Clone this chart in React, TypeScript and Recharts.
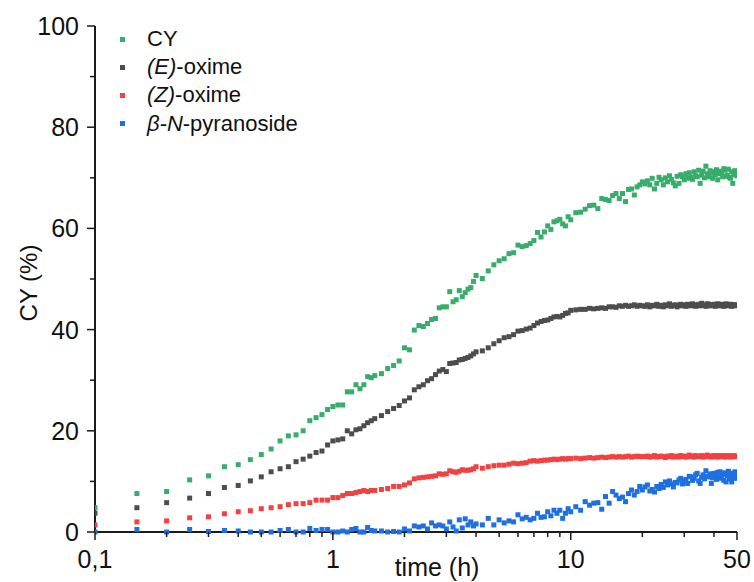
import React from 'react';
import { ScatterChart, Scatter, XAxis, YAxis } from 'recharts';

// time points (h), sampled from the measurement
const timesEarly = [0.1, 0.15, 0.2, 0.25, 0.3, 0.35, 0.4, 0.45, 0.5, 0.55, 0.6, 0.65, 0.7, 0.75, 0.8, 0.85, 0.9, 0.95, 1, 1.05, 1.1, 1.15, 1.2, 1.25, 1.3, 1.35, 1.4, 1.45, 1.5];
const timesMid = [1.6, 1.7, 1.8, 1.9, 2, 2.1, 2.2, 2.3, 2.4, 2.5, 2.6, 2.7, 2.8, 2.9, 3, 3.1, 3.2, 3.3, 3.4, 3.5, 3.6, 3.7, 3.8, 3.9, 4];
const timesLate = [4.25, 4.5, 4.75, 5, 5.25, 5.5, 5.75, 6, 6.25, 6.5, 6.75, 7, 7.25, 7.5, 7.75, 8, 8.25, 8.5, 8.75, 9, 9.25, 9.5, 9.75, 10];
const timesTail = [10.5, 11, 11.5, 12, 12.5, 13, 13.5, 14, 14.5, 15, 15.5, 16, 16.5, 17, 17.5, 18, 18.5, 19, 19.5, 20,
  20.5, 21, 21.5, 22, 22.5, 23, 23.5, 24, 24.5, 25, 25.5, 26, 26.5, 27, 27.5, 28, 28.5, 29, 29.5, 30,
  30.5, 31, 31.5, 32, 32.5, 33, 33.5, 34, 34.5, 35, 35.5, 36, 36.5, 37, 37.5, 38, 38.5, 39, 39.5, 40,
  40.5, 41, 41.5, 42, 42.5, 43, 43.5, 44, 44.5, 45, 45.5, 46, 46.5, 47, 47.5, 48, 48.5, 49, 49.5, 50];
const times = [...timesEarly, ...timesMid, ...timesLate, ...timesTail];

// CY (%)
const cyValues = [
  4.8, 7.6, 8.0, 10.3, 11.1, 12.9, 13.3, 14.3, 15.3, 16.4, 18.0, 19.0, 19.2, 20.0, 22.0, 22.6, 23.2, 24.2, 24.8, 25.1, 25.1, 27.7, 27.7, 29.1, 28.3, 29.1, 30.7, 30.5, 30.9,
  31.3, 32.3, 32.9, 33.8, 36.4, 36.0, 39.9, 40.8, 40.6, 41.2, 42.0, 42.2, 44.3, 44.5, 44.5, 47.5, 45.5, 45.9, 47.7, 46.5, 47.3, 48.0, 48.3, 49.5, 50.7,
  50.1, 51.6, 52.8, 53.6, 54.0, 55.0, 55.2, 56.7, 56.4, 56.6, 57.0, 57.6, 59.2, 58.3, 59.3, 60.5, 59.8, 61.3, 61.5, 61.8, 60.9, 60.5, 62.3, 61.7,
  63.1, 63.2, 63.8, 64.5, 64.6, 63.9, 65.9, 65.7, 65.5, 66.5, 66.9, 65.9, 66.9, 65.3, 67.7, 67.8, 66.6, 68.2, 68.6, 69.2,
  68.8, 69.4, 68.6, 69.9, 67.8, 68.9, 70.1, 69.6, 68.6, 70.0, 69.2, 70.4, 69.7, 69.0, 68.4, 70.3, 68.9, 70.6, 70.2, 69.6,
  70.8, 69.9, 71.0, 70.1, 69.7, 71.2, 70.4, 70.2, 71.5, 68.9, 70.5, 71.3, 70.0, 72.3, 70.8, 70.2, 71.4, 70.9, 69.9, 71.2,
  70.6, 71.6, 69.6, 70.8, 71.3, 70.9, 70.2, 71.8, 71.5, 70.3, 70.5, 71.7, 70.1, 69.9, 71.2, 68.9, 70.6, 71.4, 70.9, 70.4,
];

// (E)-oxime (%)
const eOximeValues = [
  3.7, 4.8, 5.8, 6.7, 7.6, 8.8, 9.2, 10.1, 10.9, 11.9, 12.5, 12.9, 13.9, 14.4, 15.0, 15.7, 16.0, 17.2, 18.0, 18.2, 18.4, 20.0, 19.4, 20.2, 20.4, 21.0, 21.6, 22.0, 22.4,
  23.0, 23.8, 24.4, 25.0, 25.9, 26.5, 28.1, 28.7, 29.1, 29.9, 30.3, 31.1, 31.8, 32.1, 31.7, 33.3, 33.4, 33.5, 34.0, 34.1, 34.3, 34.5, 34.8, 35.2, 35.6,
  35.8, 36.4, 37.2, 37.8, 38.4, 38.6, 39.0, 39.7, 39.8, 40.1, 40.3, 40.8, 41.3, 41.6, 41.8, 41.9, 42.2, 42.5, 42.6, 42.5, 42.8, 43.2, 43.3, 43.8,
  43.9, 44.0, 44.0, 44.2, 44.1, 44.2, 44.3, 44.2, 44.5, 44.5, 44.4, 44.7, 44.6, 44.8, 44.6, 44.7, 44.9, 44.6, 44.8, 44.7,
  44.6, 44.9, 44.5, 44.8, 44.7, 45.0, 44.6, 44.8, 44.5, 44.9, 44.7, 45.1, 44.6, 44.8, 44.9, 44.5, 44.8, 45.0, 44.7, 44.9,
  44.6, 45.0, 44.8, 44.7, 45.1, 44.9, 44.6, 44.8, 45.0, 44.7, 45.2, 44.8, 44.9, 44.6, 45.1, 45.0, 44.7, 44.9, 44.8, 45.0,
  44.6, 44.9, 45.1, 44.8, 44.7, 45.0, 44.9, 44.6, 44.8, 45.1, 44.9, 44.7, 44.8, 45.0, 44.6, 44.9, 44.8, 44.7, 44.9, 44.8,
];

// (Z)-oxime (%)
const zOximeValues = [
  1.4, 2.0, 2.2, 2.8, 3.0, 3.6, 4.0, 4.2, 4.6, 4.8, 5.0, 5.4, 5.6, 5.6, 5.8, 6.3, 6.3, 6.3, 6.8, 6.8, 7.2, 7.6, 7.6, 7.8, 8.0, 8.2, 8.0, 8.2, 8.2,
  8.4, 8.6, 9.0, 9.0, 9.3, 9.7, 10.5, 10.7, 10.8, 10.9, 11.0, 11.1, 11.5, 11.4, 11.5, 12.1, 11.9, 11.8, 12.0, 12.3, 12.2, 12.2, 12.3, 12.5, 12.9,
  12.6, 12.9, 13.1, 13.2, 13.2, 13.4, 13.6, 13.5, 13.6, 13.7, 14.0, 14.1, 14.0, 14.1, 14.2, 14.2, 14.3, 14.4, 14.3, 14.4, 14.5, 14.4, 14.5, 14.5,
  14.6, 14.5, 14.6, 14.7, 14.6, 14.7, 14.8, 14.7, 14.8, 14.9, 14.8, 14.9, 14.8, 14.9, 15.0, 14.8, 14.9, 15.0, 14.9, 14.9,
  14.9, 15.0, 14.8, 14.9, 15.1, 14.8, 14.9, 15.0, 14.9, 14.7, 15.0, 14.9, 15.1, 14.8, 14.9, 15.0, 14.8, 15.1, 14.9, 15.0,
  14.8, 14.9, 15.2, 14.9, 15.0, 14.8, 15.1, 14.9, 15.0, 14.9, 15.1, 14.8, 15.0, 14.9, 15.2, 15.0, 14.9, 14.8, 15.0, 15.1,
  14.9, 15.0, 14.8, 15.1, 14.9, 15.0, 14.9, 15.1, 14.8, 15.0, 14.9, 15.1, 15.0, 14.8, 15.0, 14.9, 15.1, 14.9, 15.0, 14.9,
];

// beta-N-pyranoside (%)
const pyranosideValues = [
  0.0, 0.5, 0.0, 0.5, 0.1, 0.3, 0.2, 0.0, 0.0, 0.0, 0.3, 0.5, 0.0, 0.0, 0.7, 0.3, 0.5, 0.5, 0.0, 0.0, 0.2, 0.0, 0.5, 0.7, 0.0, 0.0, 0.9, 0.3, 0.2,
  0.2, 0.0, 0.1, 0.0, 0.6, 0.2, 1.2, 1.0, 1.2, 0.6, 1.8, 1.2, 1.4, 1.2, 0.6, 2.0, 1.0, 0.2, 2.4, 0.8, 2.6, 1.4, 2.0, 1.2, 1.6,
  1.4, 2.7, 1.4, 2.4, 1.8, 2.2, 2.0, 3.4, 2.6, 2.9, 2.4, 2.7, 3.7, 2.9, 3.0, 4.0, 3.2, 4.3, 3.7, 4.3, 2.7, 3.7, 4.6, 4.0,
  5.0, 4.3, 6.0, 5.3, 5.7, 5.8, 4.5, 7.0, 5.7, 8.0, 7.3, 6.6, 6.9, 6.0, 7.6, 8.3, 7.3, 8.0, 9.0, 8.3,
  8.9, 9.3, 8.1, 8.4, 7.9, 9.0, 8.6, 9.4, 8.8, 9.9, 9.3, 10.1, 9.5, 8.9, 9.8, 9.7, 10.3, 10.6, 9.5, 10.1,
  10.4, 9.6, 11.0, 10.9, 10.2, 10.6, 11.3, 11.6, 10.1, 9.6, 10.8, 11.3, 10.5, 12.1, 11.0, 10.9, 11.5, 9.6, 10.7, 11.6,
  11.2, 10.4, 11.8, 10.9, 11.9, 10.6, 11.4, 10.2, 11.7, 9.9, 11.1, 12.0, 10.5, 11.3, 9.9, 11.6, 10.8, 11.9, 10.6, 11.2,
];

const xTicks = [0.1, 0.2, 0.3, 0.4, 0.5, 0.6, 0.7, 0.8, 0.9, 1, 2, 3, 4, 5, 6, 7, 8, 9, 10, 20, 30, 40, 50];
const xMajor = [0.1, 1, 10, 50];
const yTicks = [0, 10, 20, 30, 40, 50, 60, 70, 80, 90, 100];
const yMajor = [0, 20, 40, 60, 80, 100];

const FONT = 'Arial, "Liberation Sans", Helvetica, sans-serif';
const AXIS = '#1a1a1a';

const series = [
  { key: 'cy', values: cyValues, color: '#37ad6b', label: <span>CY</span> },
  { key: 'e', values: eOximeValues, color: '#4d4d4d', label: <span><i>(E)</i>-oxime</span> },
  { key: 'z', values: zOximeValues, color: '#f24141', label: <span><i>(Z)</i>-oxime</span> },
  { key: 'b', values: pyranosideValues, color: '#1e70e0', label: <span><i>β-N</i>-pyranoside</span> },
];

const toPoints = (values: number[]) => times.map((t, i) => ({ t, y: values[i] }));

function XTick(props: any) {
  const { x, y, payload } = props;
  const v = payload.value;
  const major = xMajor.includes(v);
  return (
    <g>
      <line x1={x} x2={x} y1={y} y2={y + (major ? 8 : 5)} stroke={AXIS} strokeWidth={1.5} />
      {major && (
        <text x={x} y={y + 36} textAnchor="middle" fontSize={25} fontFamily={FONT} fill="#111">
          {String(v).replace('.', ',')}
        </text>
      )}
    </g>
  );
}

function YTick(props: any) {
  const { x, y, payload } = props;
  const v = payload.value;
  const major = yMajor.includes(v);
  return (
    <g>
      <line x1={x - (major ? 8 : 5)} x2={x} y1={y} y2={y} stroke={AXIS} strokeWidth={1.5} />
      {major && (
        <text x={x - 16} y={y} dy="0.36em" textAnchor="end" fontSize={25} fontFamily={FONT} fill="#111">
          {v}
        </text>
      )}
    </g>
  );
}

function YTitle(props: any) {
  const vb = props.viewBox || { x: 35, y: 26, width: 60, height: 506 };
  const cx = vb.x - 7;
  const cy = vb.y + vb.height / 2 + 4;
  return (
    <text x={cx} y={cy} transform={`rotate(-90 ${cx} ${cy})`} textAnchor="middle" dy="0.36em"
      fontSize={24} fontFamily={FONT} fill="#111">CY (%)</text>
  );
}

function XTitle(props: any) {
  const vb = props.viewBox || { x: 95, y: 532, width: 642, height: 30 };
  return (
    <text x={vb.x + vb.width / 2 + 21} y={vb.y + 44} textAnchor="middle" fontSize={25} fontFamily={FONT} fill="#111">
      time (h)
    </text>
  );
}

function Legend() {
  return (
    <div style={{ position: 'absolute', left: 115, top: 25, fontFamily: FONT, fontSize: 22, color: '#111' }}>
      {series.map((s) => (
        <div key={s.key} style={{ display: 'flex', alignItems: 'center', height: 28.2, whiteSpace: 'nowrap' }}>
          <span style={{ display: 'inline-block', width: 5, height: 5, background: s.color, marginLeft: 5, marginRight: 22 }} />
          {s.label}
        </div>
      ))}
    </div>
  );
}

export default function App() {
  return (
    <div style={{ position: 'absolute', left: 0, top: 0, width: 754, height: 582, background: '#fff' }}>
      <ScatterChart width={754} height={582} margin={{ top: 26, right: 17, bottom: 20, left: 35 }}>
        <XAxis
          dataKey="t"
          type="number"
          scale="log"
          domain={[0.1, 50]}
          allowDataOverflow
          ticks={xTicks}
          interval={0}
          height={30}
          tickSize={0}
          tickMargin={0}
          tickLine={false}
          tick={<XTick />}
          axisLine={{ stroke: AXIS, strokeWidth: 2 }}
          label={<XTitle />}
        />
        <YAxis
          dataKey="y"
          type="number"
          domain={[0, 100]}
          ticks={yTicks}
          interval={0}
          width={60}
          tickSize={0}
          tickMargin={0}
          tickLine={false}
          tick={<YTick />}
          axisLine={{ stroke: AXIS, strokeWidth: 2 }}
          label={<YTitle />}
        />
        {series.map((s) => (
          <Scatter
            key={s.key}
            data={toPoints(s.values)}
            fill={s.color}
            isAnimationActive={false}
            shape={(p: any) => (p.cx == null ? <g /> : <rect x={p.cx - 2.5} y={p.cy - 2.5} width={5} height={5} fill={s.color} />)}
          />
        ))}
      </ScatterChart>
      <Legend />
    </div>
  );
}
